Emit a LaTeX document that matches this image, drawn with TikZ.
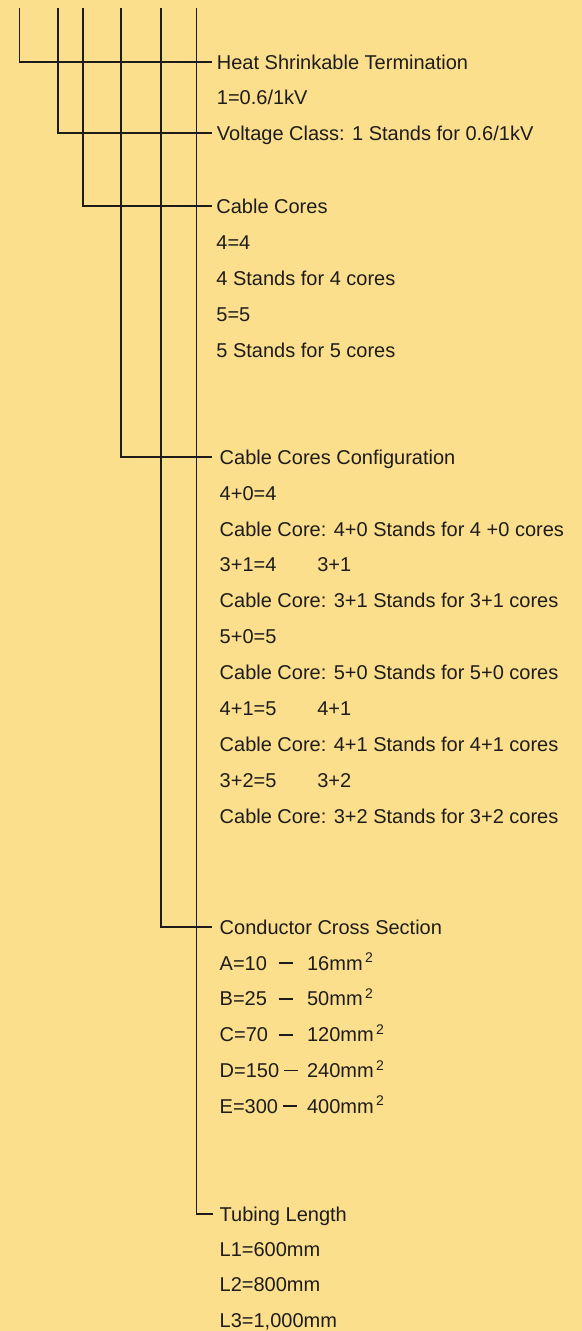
\documentclass[tikz,border=0pt]{standalone}
\usepackage{fontspec}
\setmainfont{Liberation Sans}
\definecolor{sheet}{HTML}{FBDF8C}
\definecolor{ink}{HTML}{1E1C1A}
\tikzset{
  head/.style={anchor=west, inner sep=0pt, text height=7.2pt, text depth=0pt,
    font=\fontsize{10}{12}\selectfont, text=ink},
  item/.style={head},
  lead/.style={ink, line width=0.6pt}
}
\newlength\xsecw
\newcommand\xsec[2]{\makebox[43.7pt][l]{\settowidth\xsecw{#1\hspace{2.5pt}}%
  \ifdim\xsecw<29.5pt\setlength\xsecw{29.5pt}\fi
  \makebox[\xsecw][l]{#1}\rule[3pt]{7pt}{0.9pt}}#2mm\textsuperscript{\,\scriptsize 2}}
\newcommand\pair[2]{\makebox[48.8pt][l]{#1}#2}

\begin{document}
\begin{tikzpicture}[x=0.5pt,y=-0.5pt]
  \fill[sheet] (0,0) rectangle (582,1331);
  \foreach \x [count=\i] in {19.5,58,83,121,161,196.5}
    \coordinate (top\i) at (\x,8);

  \node[head] (heat) at (216.5,62) {Heat Shrinkable Termination};
  \node[head] (volt) at (216.5,133) {Voltage Class: 1 Stands for 0.6/1kV};
  \node[head] (cores) at (216,206) {Cable Cores};
  \node[head] (config) at (219.3,457) {Cable Cores Configuration};
  \node[head] (cross) at (219.3,927) {Conductor Cross Section};
  \node[head] (tube) at (219.3,1214) {Tubing Length};

  \node[item] (heat1) at ([yshift=-17.75pt]heat.west) {1=0.6/1kV};
  \foreach \txt [count=\k] in {4=4, 4 Stands for 4 cores, 5=5, 5 Stands for 5 cores}
    \node[item] (cores\k) at ([yshift=-\k*18pt]cores.west) {\txt};
  \foreach \txt [count=\k] in {4+0=4, Cable Core: 4+0 Stands for 4 +0 cores,
      \pair{3+1=4}{3+1}, Cable Core: 3+1 Stands for 3+1 cores,
      5+0=5, Cable Core: 5+0 Stands for 5+0 cores,
      \pair{4+1=5}{4+1}, Cable Core: 4+1 Stands for 4+1 cores,
      \pair{3+2=5}{3+2}, Cable Core: 3+2 Stands for 3+2 cores}
    \node[item] (config\k) at ([yshift=-\k*17.95pt]config.west) {\txt};
  \foreach \txt [count=\k] in {\xsec{A=10}{16}, \xsec{B=25}{50}, \xsec{C=70}{120},
      \xsec{D=150}{240}, \xsec{E=300}{400}}
    \node[item] (cross\k) at ([yshift=-\k*17.9pt]cross.west) {\txt};
  \foreach \txt [count=\k] in {L1=600mm, L2=800mm, {L3=1,000mm}}
    \node[item] (tube\k) at ([yshift=-\k*17.65pt]tube.west) {\txt};

  \draw[lead] (top1) |- ([xshift=-2.5pt]heat.west);
  \draw[lead] (top2) |- ([xshift=-2.5pt]volt.west);
  \draw[lead] (top3) |- ([xshift=-2pt]cores.west);
  \draw[lead] (top4) |- ([xshift=-3.8pt]config.west);
  \draw[lead] (top5) |- ([xshift=-3.8pt]cross.west);
  \draw[lead] (top6) |- ([xshift=-3.3pt]tube.west);
\end{tikzpicture}
\end{document}
